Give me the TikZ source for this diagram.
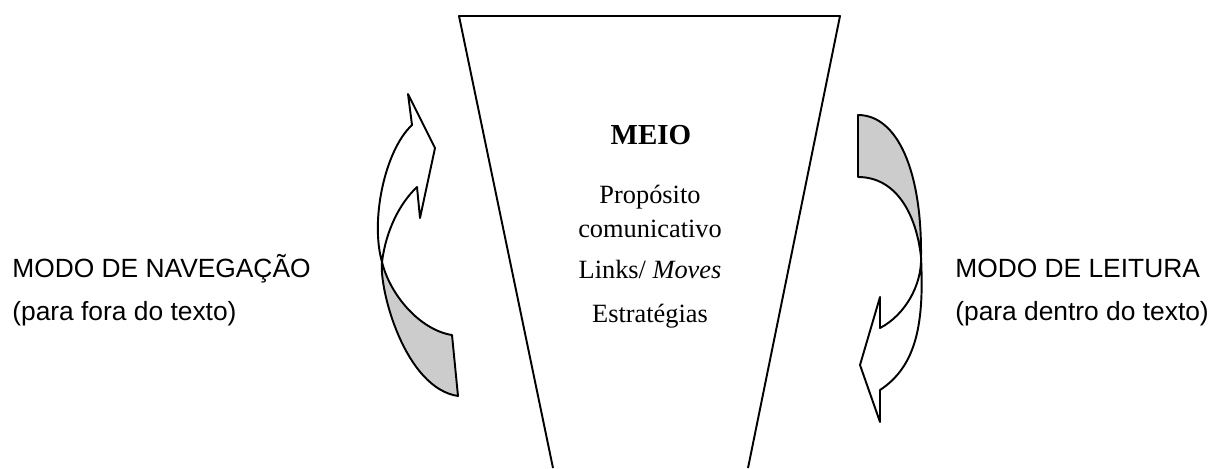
\documentclass[tikz,border=0pt]{standalone}
\usepackage{fontspec}
\setmainfont{Liberation Serif}
\newfontfamily\arialfont{Liberation Sans}
\begin{document}
\begin{tikzpicture}[x=0.02cm,y=-0.02cm,
  sidetext/.style={anchor=base west,inner sep=0pt,font=\arialfont\fontsize{15}{18}\selectfont},
  midtext/.style={anchor=base,inner sep=0pt,font=\fontsize{15}{18}\selectfont},
  edge/.style={line width=1.1pt,line join=round}]
\useasboundingbox (0,0) rectangle (1212,468);
\draw[edge] (553,468) -- (459,16) -- (840,16) -- (748,468);
\node[midtext,font=\bfseries\fontsize{16.5}{19}\selectfont] (meio) at (651,144){MEIO};
\node[midtext] (proposito) at (650,203){Propósito};
\node[midtext] (comunicativo) at (650,237){comunicativo};
\node[midtext] (links) at (650,278){Links/ \textit{Moves}};
\node[midtext] (estrategias) at (650,322){Estratégias};
\node[sidetext] (navegacao) at (12,277){MODO DE NAVEGAÇÃO};
\node[sidetext] (fora) at (12,320){(para fora do texto)};
\node[sidetext] (leitura) at (955,277){MODO DE LEITURA};
\node[sidetext] (dentro) at (955,320){(para dentro do texto)};
\coordinate (lt) at (408,94);
\coordinate (lr) at (435,148);
\coordinate (lh) at (420,218);
\coordinate (lb) at (417,187);
\coordinate (lo) at (412,125);
\coordinate (lx) at (382,262);
\coordinate (li) at (452,335);
\coordinate (le) at (458,396);
\draw[edge,fill=white] (lx) .. controls (370,220) and (385,150) .. (lo) -- (lt) -- (lr) -- (lh) -- (lb) .. controls (400,203) and (386,230) .. (lx) -- cycle;
\draw[edge,fill=gray!40] (lx) .. controls (379,290) and (405,388) .. (le) -- (li) .. controls (420,330) and (390,295) .. (lx) -- cycle;
\coordinate (rt) at (858,115);
\coordinate (rs) at (858,177);
\coordinate (rx) at (921,257);
\coordinate (ro) at (880,390);
\coordinate (ri) at (880,328);
\coordinate (ru) at (880,297);
\coordinate (rp) at (860,365);
\coordinate (rd) at (880,422);
\draw[edge,fill=gray!40] (rt) .. controls (897,115) and (922,170) .. (rx) .. controls (916,212) and (895,177) .. (rs) -- cycle;
\draw[edge,fill=white] (rx) .. controls (924,320) and (918,365) .. (ro) -- (rd) -- (rp) -- (ru) -- (ri) .. controls (905,315) and (922,285) .. (rx) -- cycle;
\end{tikzpicture}
\end{document}
